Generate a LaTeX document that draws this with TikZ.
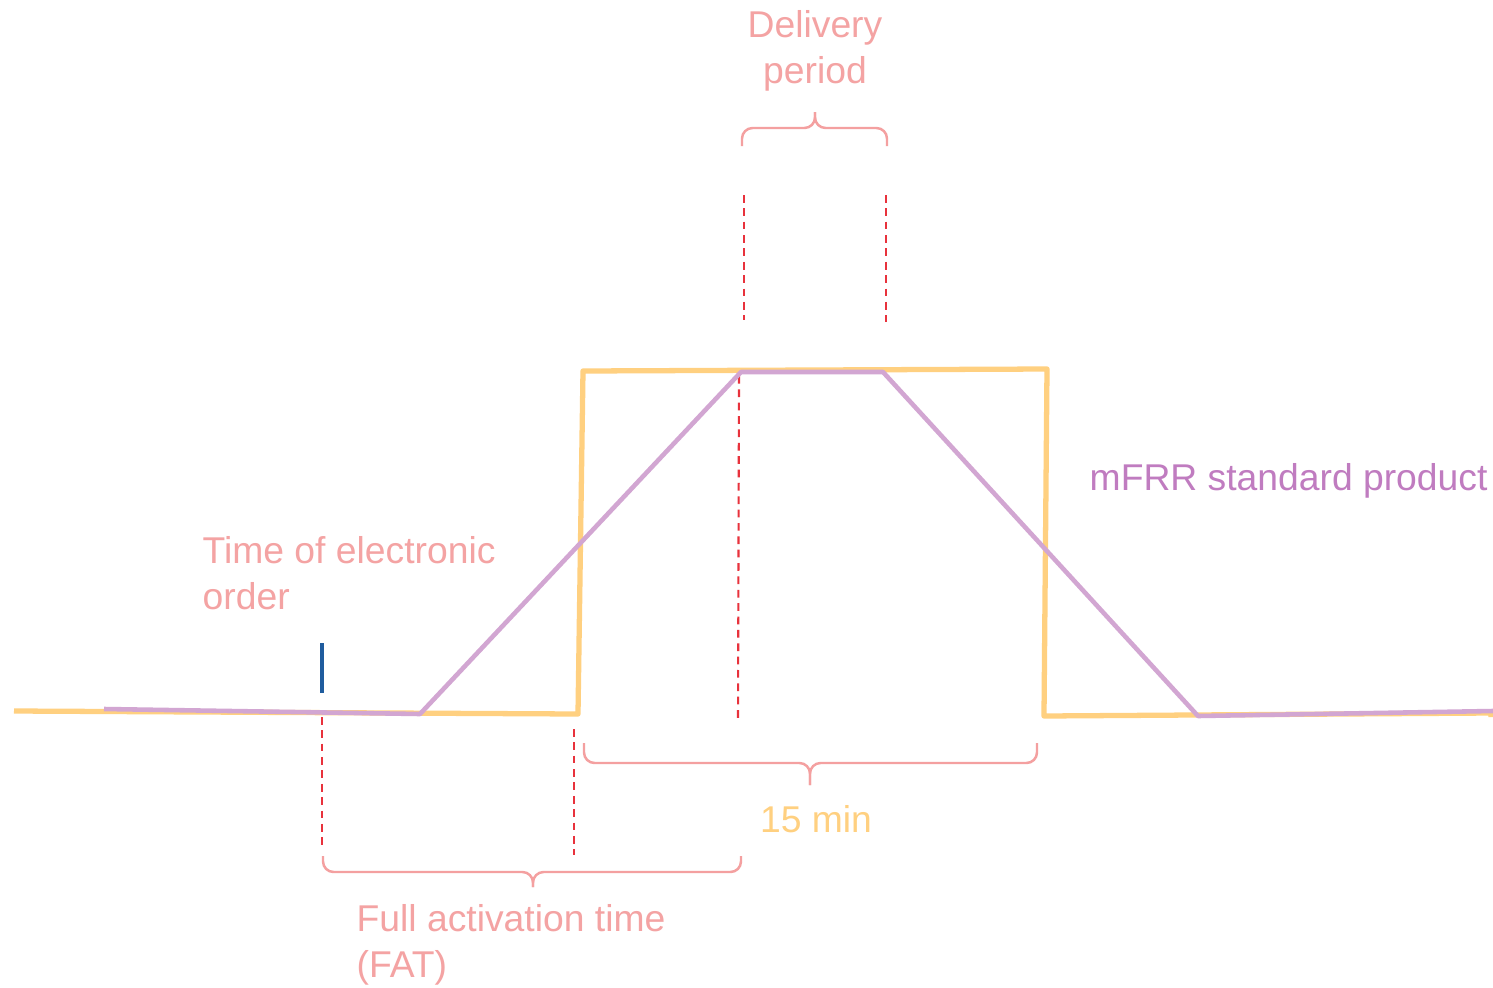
\documentclass[tikz,border=0pt]{standalone}
\usepackage{fontspec}
\setmainfont{Liberation Sans}
\definecolor{pinktxt}{HTML}{F4A3A3}
\definecolor{bracec}{HTML}{F4A0A0}
\definecolor{dashred}{HTML}{E8323C}
\definecolor{orangec}{HTML}{FFD080}
\definecolor{purplec}{HTML}{D2A6D2}
\definecolor{purpletxt}{HTML}{C07CC0}
\definecolor{bluec}{HTML}{1F5C9E}
\begin{document}
\begin{tikzpicture}[x=0.01cm,y=-0.01cm,
  lbl/.style={font=\fontsize{10.6}{13.1}\selectfont, inner sep=0pt, align=left},
  lblc/.style={font=\fontsize{10.6}{13.1}\selectfont, inner sep=0pt, align=center},
  guide/.style={draw=dashred, line width=0.6pt, dash pattern=on 2.2pt off 1.6pt},
  bracel/.style={draw=bracec, line width=0.7pt, rounded corners=3pt},
  prod/.style={line width=1.3pt, line join=round}]
\useasboundingbox (0,0) rectangle (1493,987);
\fill[white] (0,0) rectangle (1493,987);
% dashed guides
\draw[guide] (322,717) -- (322,845);
\draw[guide] (574,729) -- (574,855);
\draw[guide] (739,376) -- (738,722);
\draw[guide] (744,195) -- (744,320);
\draw[guide] (886,195) -- (886,322);
% orange product
\draw[prod, draw=orangec, line width=1.5pt] (14,711) -- (578,714) -- (583,371) -- (1047,369) -- (1044,716) -- (1491,713) -- (1491,717);
% purple product
\draw[prod, draw=purplec] (104,709) -- (420,714) -- (741,372) -- (883,372) -- (1198,716) -- (1493,711);
% blue tick
\draw[draw=bluec, line width=1.2pt] (322,643) -- (322,693);
% braces
\coordinate (dbL) at (742,146); \coordinate (dbR) at (887,146); \coordinate (dbT) at (815,112);
\draw[bracel] (dbL) |- (815,128) -- (dbT);
\draw[bracel] (dbR) |- (815,128) -- (dbT);
\coordinate (mbL) at (584,743); \coordinate (mbR) at (1037,743); \coordinate (mbT) at (810,785);
\draw[bracel] (mbL) |- (810,763) -- (mbT);
\draw[bracel] (mbR) |- (810,763) -- (mbT);
\coordinate (fbL) at (323,856); \coordinate (fbR) at (741,856); \coordinate (fbT) at (533,887);
\draw[bracel] (fbL) |- (533,872) -- (fbT);
\draw[bracel] (fbR) |- (533,872) -- (fbT);
% labels
\node[lblc, text=pinktxt, anchor=center] (delivery) at (815,51) {Delivery\\period};
\node[lbl, text=pinktxt, anchor=west] (order) at (202,573) {Time of electronic\\order};
\node[lblc, text=orangec, anchor=center] (fifteen) at (816,819) {15 min};
\node[lbl, text=pinktxt, anchor=west] (fat) at (356,945) {Full activation time\\(FAT)};
\node[lbl, text=purpletxt, anchor=west] (mfrr) at (1089,481) {mFRR standard product};
\end{tikzpicture}
\end{document}
